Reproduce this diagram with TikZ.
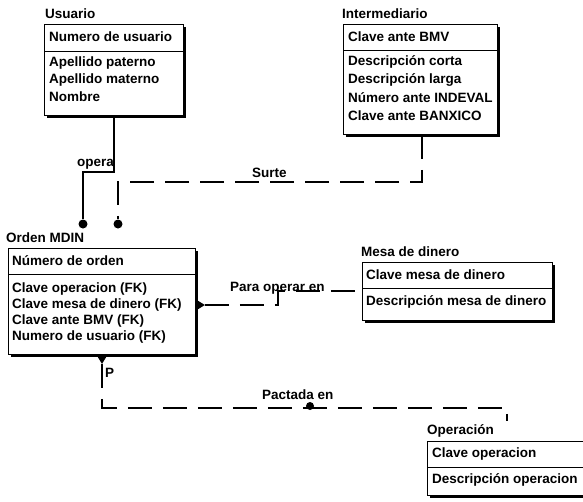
\documentclass[tikz,border=0pt]{standalone}
\usepackage{fontspec}
\setmainfont{Liberation Sans}
\usetikzlibrary{shadows,calc}
\begin{document}
\begin{tikzpicture}[x=1pt,y=-1pt,
  txt/.style={font=\bfseries\fontsize{13.5}{16}\selectfont, inner sep=0pt, anchor=west},
  entity/.style={draw, line width=0.9pt, fill=white, anchor=north west, inner sep=0pt,
    drop shadow={shadow xshift=3pt, shadow yshift=-3pt, fill=black, opacity=1}},
  sep/.style={line width=0.8pt},
  ident/.style={line width=1.1pt},
  nonident/.style={line width=1.1pt, dash pattern=on 24pt off 11pt},
  enddot/.style={circle, fill, inner sep=0pt, minimum size=9pt}
]
\useasboundingbox (0,0) rectangle (583,501);

% ---------- Usuario ----------
\node[entity, minimum width=139pt, minimum height=91pt] (usuario) at (44,24) {};
\draw[sep] (usuario.west |- 0,51) -- (usuario.east |- 0,51);
\node[txt] (usuario-title) at (45,14) {Usuario};
\node[txt] (usuario-k1) at (49,37) {Numero de usuario};
\node[txt] (usuario-a1) at (49,63) {Apellido paterno};
\node[txt] (usuario-a2) at (49,80) {Apellido materno};
\node[txt] (usuario-a3) at (49,97) {Nombre};

% ---------- Intermediario ----------
\node[entity, minimum width=154pt, minimum height=110pt] (intermediario) at (343,24) {};
\draw[sep] (intermediario.west |- 0,50) -- (intermediario.east |- 0,50);
\node[txt] (inter-title) at (342,14) {Intermediario};
\node[txt] (inter-k1) at (348,37) {Clave ante BMV};
\node[txt] (inter-a1) at (348,62) {Descripción corta};
\node[txt] (inter-a2) at (348,80) {Descripción larga};
\node[txt] (inter-a3) at (348,98) {Número ante INDEVAL};
\node[txt] (inter-a4) at (348,116) {Clave ante BANXICO};

% ---------- Orden MDIN ----------
\node[entity, minimum width=187pt, minimum height=106pt] (orden) at (8,248) {};
\draw[sep] (orden.west |- 0,274) -- (orden.east |- 0,274);
\node[txt] (orden-title) at (6,238) {Orden MDIN};
\node[txt] (orden-k1) at (12,261) {Número de orden};
\node[txt] (orden-a1) at (12,289) {Clave operacion (FK)};
\node[txt] (orden-a2) at (12,305) {Clave mesa de dinero (FK)};
\node[txt] (orden-a3) at (12,321) {Clave ante BMV (FK)};
\node[txt] (orden-a4) at (12,337) {Numero de usuario (FK)};

% ---------- Mesa de dinero ----------
\node[entity, minimum width=190pt, minimum height=58pt] (mesa) at (362,262) {};
\draw[sep] (mesa.west |- 0,288) -- (mesa.east |- 0,288);
\node[txt] (mesa-title) at (361,252) {Mesa de dinero};
\node[txt] (mesa-k1) at (366,275) {Clave mesa de dinero};
\node[txt] (mesa-a1) at (366,302) {Descripción mesa de dinero};

% ---------- Operacion ----------
\node[entity, minimum width=160pt, minimum height=54pt] (operacion) at (427,441) {};
\draw[sep] (operacion.west |- 0,467) -- (operacion.east |- 0,467);
\node[txt] (oper-title) at (427,431) {Operación};
\node[txt] (oper-k1) at (432,454) {Clave operacion};
\node[txt] (oper-a1) at (432,480) {Descripción operacion};

% ---------- opera ----------
\node[enddot] (dot-opera) at (83,224) {};
\coordinate (bend-opera) at (114,172);
\draw[ident] (bend-opera |- usuario.south) -- (bend-opera) -| (dot-opera);
\node[txt, anchor=east] (lbl-opera) at (114,164) {opera};

% ---------- Surte ----------
\node[enddot] (dot-surte) at (118,224) {};
\coordinate (bend-surte) at (422,182);
\draw[nonident] (bend-surte |- intermediario.south) -- (bend-surte) -| (dot-surte);
\node[txt] (lbl-surte) at (252,173) {Surte};

% ---------- Para operar en ----------
\coordinate (base-para) at (orden.east |- 0,305);
\coordinate (tip-para) at ($(base-para)+(9,0)$);
\fill ($(base-para)+(0,-5.5)$) -- (tip-para) -- ($(base-para)+(0,5.5)$) -- cycle;
\coordinate (bend-para) at (278,305);
\draw[nonident] (tip-para) -- (bend-para) |- (mesa.west |- 0,291);
\node[txt] (lbl-para) at (230,288) {Para operar en};

% ---------- Pactada en ----------
\coordinate (base-pact) at (orden.south -| 102,0);
\coordinate (tip-pact) at ($(base-pact)+(0,9)$);
\fill ($(base-pact)+(-5.5,0)$) -- (tip-pact) -- ($(base-pact)+(5.5,0)$) -- cycle;
\coordinate (bend-pact) at (102,408);
\coordinate (end-pact) at (507,421);
\draw[nonident] (tip-pact) -- (bend-pact) -| (end-pact);
\node[enddot, minimum size=8pt] (dot-pact) at (310,406) {};
\node[txt] (lbl-p) at (105,373) {P};
\node[txt] (lbl-pact) at (262,395) {Pactada en};
\end{tikzpicture}
\end{document}
